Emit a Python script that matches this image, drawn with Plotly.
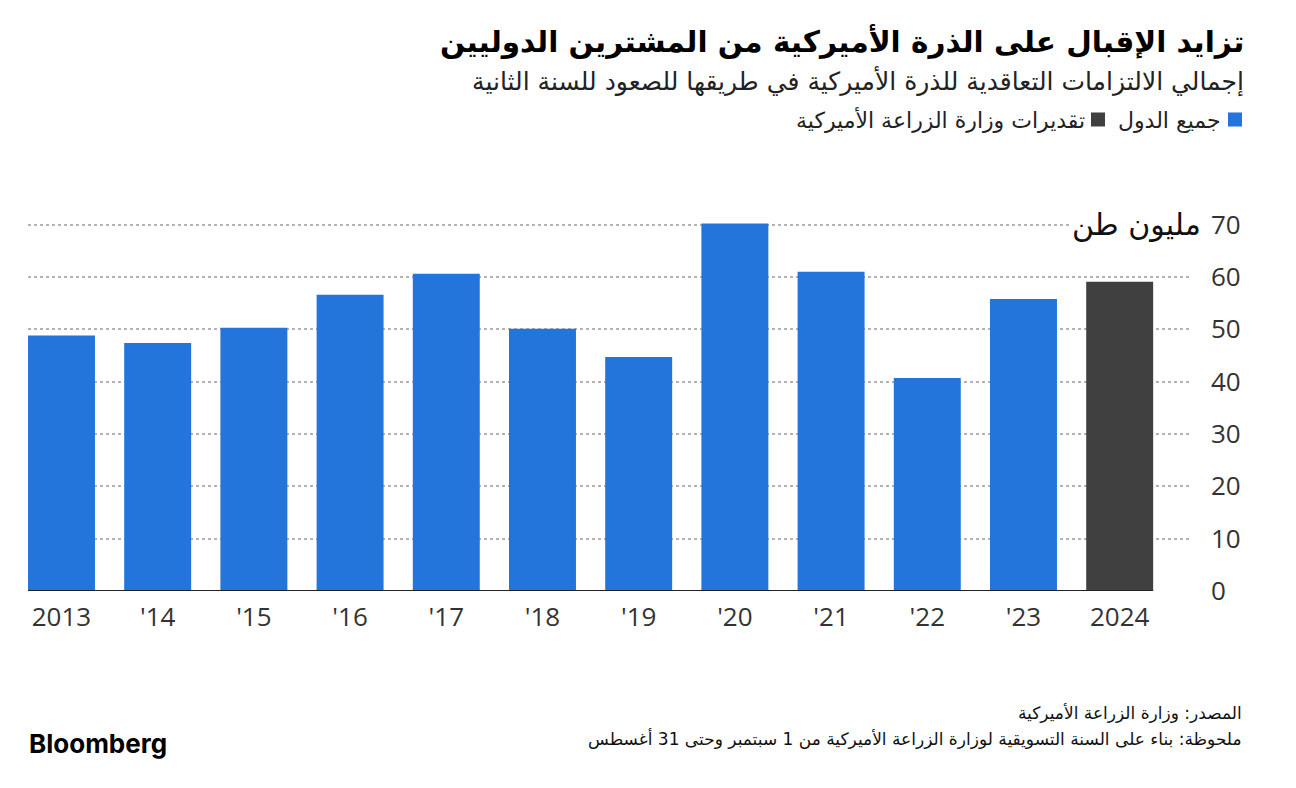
import plotly.graph_objects as go

years = ["2013", "'14", "'15", "'16", "'17", "'18", "'19", "'20", "'21", "'22", "'23", "2024"]
values = [48.8, 47.4, 50.3, 56.6, 60.6, 50.1, 44.7, 70.2, 61.0, 40.7, 55.8, 59.1]
series = ["all"] * 11 + ["usda"]
series_colors = {"all": "#2374DB", "usda": "#404040"}
legend_labels = {"all": "جميع الدول", "usda": "تقديرات وزارة الزراعة الأميركية"}
y_ticks = [0, 10, 20, 30, 40, 50, 60, 70]

title = "تزايد الإقبال على الذرة الأميركية من المشترين الدوليين"
subtitle = "إجمالي الالتزامات التعاقدية للذرة الأميركية في طريقها للصعود للسنة الثانية"
unit = "مليون طن"
source = "المصدر: وزارة الزراعة الأميركية"
note = "ملحوظة: بناء على السنة التسويقية لوزارة الزراعة الأميركية من 1 سبتمبر وحتى 31 أغسطس"

W, H = 1296, 788
OFF = 8  # page offset of the figure
L, R, T, B = 28 - OFF, 1192 - OFF, 222.4 - OFF, 591 - OFF
YMAX = 70.5

def px2x(px):
    return (px - OFF - L) / (R - L)

def py2y(py):
    return (B - (py - OFF)) / (B - T)

ARFONT = "DejaVu Sans"
NUMFONT = "Open Sans"

fig = go.Figure()
fig.add_trace(go.Bar(
    x=years, y=values,
    marker=dict(color=[series_colors[s] for s in series], line=dict(width=0)),
    width=0.696, showlegend=False, hoverinfo="x+y",
))

n = len(years)
xr0 = -0.348
xr1 = xr0 + (R - L) / 96.2

fig.update_layout(
    width=W, height=H,
    margin=dict(l=L, r=W - R, t=T, b=H - B),
    paper_bgcolor="white", plot_bgcolor="white",
    xaxis=dict(
        type="category", range=[xr0, xr1], showgrid=False, showline=False,
        ticks="", tickfont=dict(family=NUMFONT, size=26, color="#333333"),
        ticklabelstandoff=8, zeroline=False,
    ),
    yaxis=dict(
        side="right", range=[0, YMAX], tickvals=y_ticks,
        showgrid=True, gridcolor="#b3b3b3", gridwidth=2, griddash="dot",
        zeroline=False, showline=False, ticks="",
        tickfont=dict(family=NUMFONT, size=26, color="#333333"),
        ticklabelstandoff=18,
    ),
    font=dict(family=ARFONT),
)

# baseline under bars
fig.add_shape(type="line", xref="x", yref="y", x0=xr0, x1=(n - 1) + 0.348, y0=0, y1=0,
              line=dict(color="#222222", width=2), layer="above")

ann = []
ann.append(dict(text="<b>" + title + "</b>", x=px2x(1246), y=py2y(42), xref="paper", yref="paper",
                xanchor="right", yanchor="middle", showarrow=False,
                font=dict(family=ARFONT, size=29.5, color="#000000")))
ann.append(dict(text=subtitle, x=px2x(1246), y=py2y(82), xref="paper", yref="paper",
                xanchor="right", yanchor="middle", showarrow=False,
                font=dict(family=ARFONT, size=25, color="#222222")))
# legend
ann.append(dict(text=legend_labels["all"], x=px2x(1223), y=py2y(121), xref="paper", yref="paper",
                xanchor="right", yanchor="middle", showarrow=False,
                font=dict(family=ARFONT, size=22, color="#222222")))
ann.append(dict(text=legend_labels["usda"], x=px2x(1087), y=py2y(121), xref="paper", yref="paper",
                xanchor="right", yanchor="middle", showarrow=False,
                font=dict(family=ARFONT, size=22, color="#222222")))
fig.add_shape(type="rect", xref="paper", yref="paper", x0=px2x(1228), x1=px2x(1242),
              y0=py2y(127), y1=py2y(113), fillcolor=series_colors["all"], line=dict(width=0))
fig.add_shape(type="rect", xref="paper", yref="paper", x0=px2x(1091), x1=px2x(1105),
              y0=py2y(127), y1=py2y(113), fillcolor=series_colors["usda"], line=dict(width=0))
# unit label
ann.append(dict(text=unit, x=px2x(1203), y=70, xref="paper", yref="y",
                xanchor="right", yanchor="middle", showarrow=False, bgcolor="white",
                font=dict(family=ARFONT, size=30, color="#111111")))
# footer
ann.append(dict(text=source, x=px2x(1244), y=py2y(713), xref="paper", yref="paper",
                xanchor="right", yanchor="middle", showarrow=False,
                font=dict(family=ARFONT, size=17, color="#111111")))
ann.append(dict(text=note, x=px2x(1244), y=py2y(738), xref="paper", yref="paper",
                xanchor="right", yanchor="middle", showarrow=False,
                font=dict(family=ARFONT, size=17, color="#111111")))
ann.append(dict(text="<b>Bloomberg</b>", x=px2x(27), y=py2y(743), xref="paper", yref="paper",
                xanchor="left", yanchor="middle", showarrow=False,
                font=dict(family="Inter", size=26, color="#000000")))
fig.update_layout(annotations=ann)

fig.write_html("out.html")
